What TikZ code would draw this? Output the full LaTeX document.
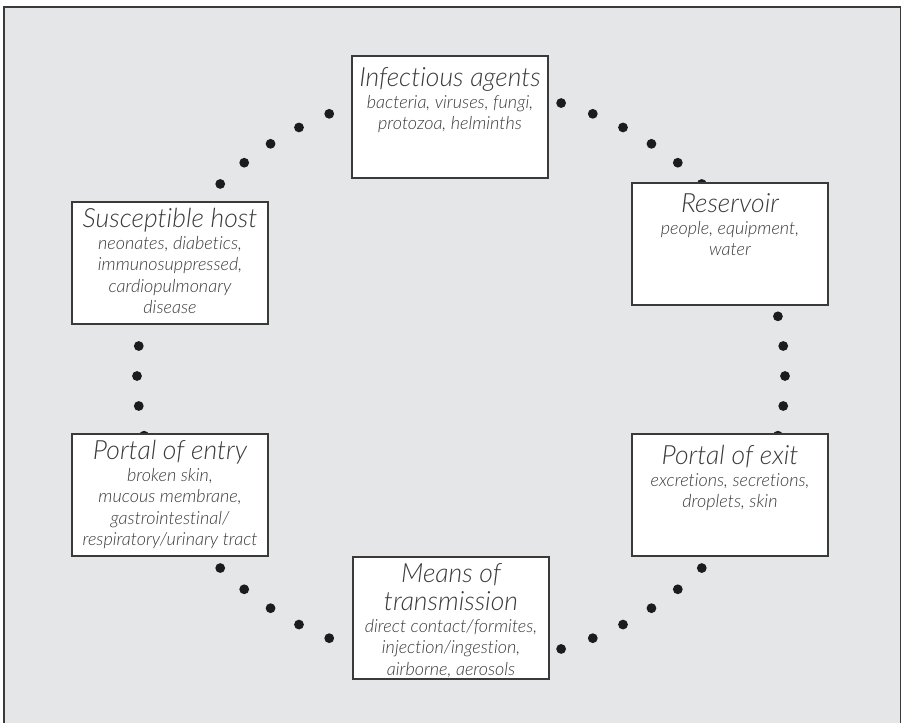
\documentclass[tikz,border=0pt]{standalone}
\usepackage{fontspec}
\newfontfamily\gillfont[Ligatures=NoCommon]{Lato Light Italic}
\usetikzlibrary{positioning}
\definecolor{panelgray}{HTML}{E5E6E8}
\definecolor{inkgray}{HTML}{3A3A3A}
\definecolor{dotblack}{HTML}{1C1C1C}
\newcommand{\stagetitle}[1]{{\fontsize{26.5}{30}\selectfont #1}}

\begin{document}
\begin{tikzpicture}[x=1pt, y=-1pt,
  stagebox/.style={draw=inkgray, fill=white, line width=1.2pt,
    minimum width=196pt, minimum height=122pt, inner sep=0pt},
  stagetext/.style={anchor=north, align=center, inner sep=0pt, text=inkgray,
    font=\gillfont\fontsize{18}{21.5}\selectfont}]
\useasboundingbox (0,0) rectangle (901,722);
\draw [fill=panelgray, draw=inkgray, line width=2pt] (4,7) rectangle (901,730);

\coordinate (hub) at (461,376);
\foreach \a in {0,6,...,354}
  \fill [dotblack] (hub) ++(\a:324 and 287) circle (4.9);

\node [stagebox] (agents) at (450,117) {};
\node [stagebox] (reservoir) at (730,244) {};
\node [stagebox] (exit) at (730,495) {};
\node [stagebox] (means) at (451,618) {};
\node [stagebox] (entry) at (170,495) {};
\node [stagebox] (host) at (170,263) {};

\node [stagetext] (agentst) at ([yshift=-12pt]agents.north)
  {\stagetitle{Infectious agents}\\ bacteria, viruses, fungi,\\ protozoa, helminths};
\node [stagetext] (reservoirt) at ([yshift=-11pt]reservoir.north)
  {\stagetitle{Reservoir}\\ people, equipment,\\ water};
\node [stagetext] (exitt) at ([yshift=-12pt]exit.north)
  {\stagetitle{Portal of exit}\\ excretions, secretions,\\ droplets, skin};
\node [stagetext] (meanst) at ([yshift=-7pt]means.north)
  {\stagetitle{Means of}\\[5pt] \stagetitle{transmission}\\ direct contact/formites,\\
   injection/ingestion,\\ airborne, aerosols};
\node [stagetext] (entryt) at ([yshift=-7pt]entry.north)
  {\stagetitle{Portal of entry}\\ broken skin,\\ mucous membrane,\\ gastrointestinal/\\
   respiratory/urinary tract};
\node [stagetext] (hostt) at ([yshift=-7pt]host.north)
  {\stagetitle{Susceptible host}\\ neonates, diabetics,\\ immunosuppressed,\\
   cardiopulmonary\\ disease};
\end{tikzpicture}
\end{document}
